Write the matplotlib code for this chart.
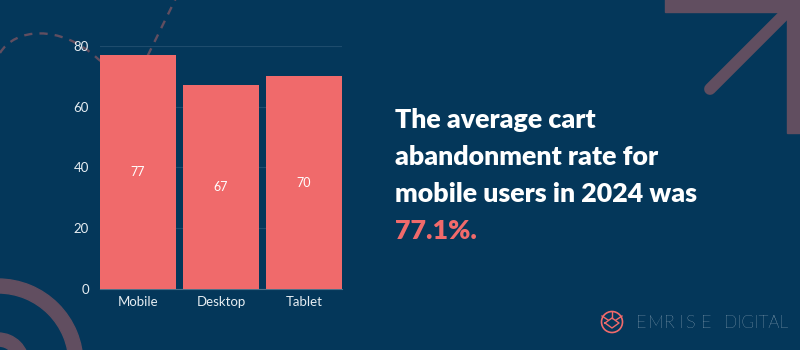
import matplotlib.pyplot as plt
from matplotlib.path import Path
from matplotlib.patches import PathPatch, Wedge, Circle, Rectangle

# %% data
devices = ['Mobile', 'Desktop', 'Tablet']
rates = [77, 67, 70]
yticks = [0, 20, 40, 60, 80]
headline = ['The average cart', 'abandonment rate for', 'mobile users in 2024 was']
highlight = '77.1%.'

bg_col = '#04375a'
bar_col = '#f06a6b'
deco_col = '#614e60'
grid_col = '#1e4c6d'

plt.rcParams['font.family'] = ['Lato', 'DejaVu Sans']

fig = plt.figure(figsize=(8, 3.5), dpi=100, facecolor=bg_col)

# %% background decoration, pixel coordinates
bg = fig.add_axes([0, 0, 1, 1], zorder=0)
bg.set_xlim(0, 800)
bg.set_ylim(350, 0)
bg.axis('off')
bg.set_facecolor(bg_col)

# dashed swoosh top left
verts = [(0, 53), (15, 28), (60, 24), (97, 58),
         (117, 76), (140, 71), (148, 55),
         (158, 35), (168, 14), (178, -6)]
codes = [Path.MOVETO] + [Path.CURVE4] * 9
bg.add_patch(PathPatch(Path(verts, codes), fill=False, ec=deco_col, lw=1.7,
                       ls=(0, (3.5, 3))))

# rings bottom left
bg.add_patch(Wedge((-2, 364), 85, 0, 360, width=14, color=deco_col))
bg.add_patch(Wedge((-2, 364), 31, 0, 360, width=13, color=deco_col))

# arrow top right
bg.add_patch(Rectangle((665, -5), 140, 17, color=deco_col))
bg.add_patch(Rectangle((787, -5), 20, 138, color=deco_col))
bg.plot([710, 785], [89, 14], color=deco_col, lw=8.5, solid_capstyle='round')

# %% headline
x0 = 395
for i, line in enumerate(headline):
    bg.text(x0, 128 + i * 37, line, color='white', fontsize=19.3, fontweight='heavy',
            va='baseline', ha='left')
bg.text(x0, 128 + 3 * 37, highlight, color=bar_col, fontsize=19.3, fontweight='heavy',
        va='baseline', ha='left')

# %% logo
bg.add_patch(Circle((612, 322), 10.5, fill=False, ec=bar_col, lw=1.2))
bg.plot([612, 612], [311.5, 318], color=bar_col, lw=1)
bg.plot([605, 612, 619, 612, 605], [323, 318, 323, 328, 323], color=bar_col, lw=1)
bg.plot([602, 608], [316, 320], color=bar_col, lw=1)
bg.plot([622, 616], [316, 320], color=bar_col, lw=1)
for ch, px in zip('EMRISE', [636, 648, 664, 678.5, 685, 701]):
    bg.text(px, 323, ch, color='#dfe6ec', fontsize=13,
            fontweight='light', va='center', ha='left')
bg.text(724, 323, 'DIGITAL', color='#dfe6ec', fontsize=12.5, fontweight='light',
        va='center', ha='left')

# %% bar chart
ax = fig.add_axes([0.125, 0.1743, 0.3025, 0.6943], zorder=1)
ax.patch.set_alpha(0)
x = range(len(devices))
bars = ax.bar(x, rates, width=0.916, color=bar_col, zorder=3)
for b, v in zip(bars, rates):
    ax.text(b.get_x() + b.get_width() / 2, v / 2, str(v), color='white',
            fontsize=9, ha='center', va='center', zorder=4)

ax.set_xlim(-0.458, 2.458)
ax.set_ylim(0, 80)
ax.set_yticks(yticks)
ax.set_xticks(list(x))
ax.set_xticklabels(devices)
ax.grid(axis='y', color=grid_col, lw=0.8, zorder=0)
for s in ['top', 'right', 'left']:
    ax.spines[s].set_visible(False)
ax.spines['bottom'].set_color('#4f7088')
ax.spines['bottom'].set_linewidth(0.8)
ax.tick_params(length=0, colors='#e6edf2', labelsize=9.5)
ax.tick_params(axis='y', pad=8)
ax.tick_params(axis='x', pad=5)

fig.savefig('out.png', dpi=100, facecolor=bg_col)
